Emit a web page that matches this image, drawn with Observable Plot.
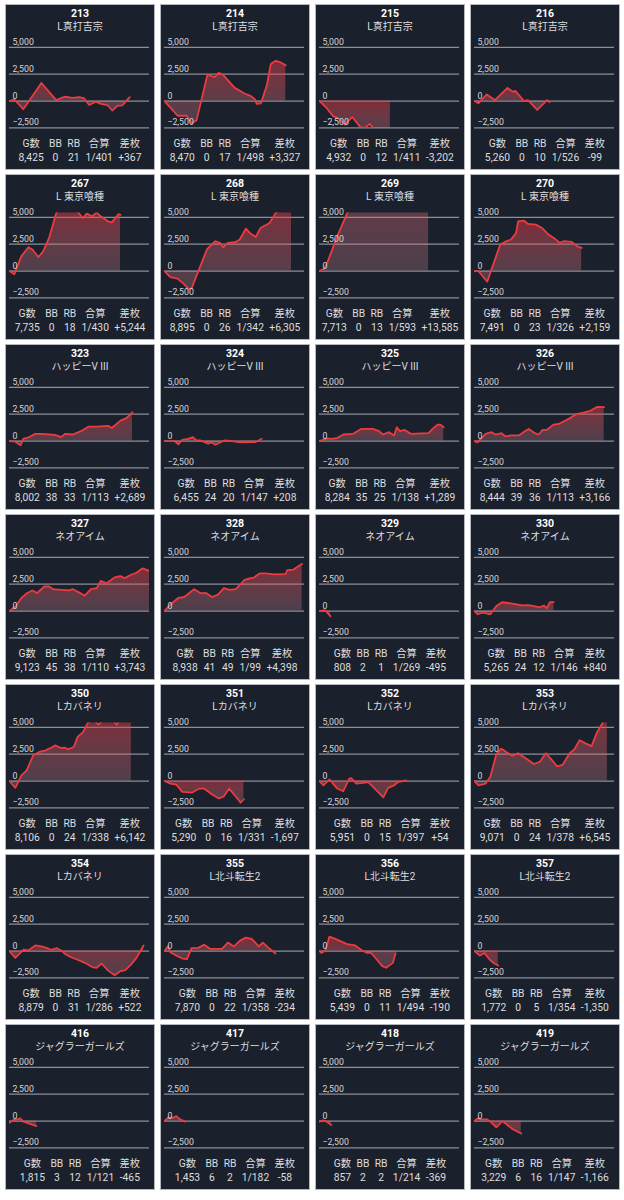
<!DOCTYPE html>
<html><head><meta charset="utf-8">
<script src="https://cdn.jsdelivr.net/npm/d3@7"></script>
<script src="https://cdn.jsdelivr.net/npm/@observablehq/plot@0.6"></script>
<style>
body{margin:0;background:#ffffff;font-family:Roboto,"Noto Sans CJK JP",sans-serif;}
#wrap{position:relative;width:624px;height:1200px;}
.panel{position:absolute;width:150px;height:166px;box-sizing:border-box;border:1px solid #b4b7be;background:#1b202d;color:#e4e4e4;overflow:hidden;}
.no{position:absolute;top:1px;left:0;right:0;text-align:center;font-weight:bold;font-size:10.5px;line-height:16px;color:#ffffff;}
.nm{position:absolute;top:14px;left:0;right:0;text-align:center;font-size:10px;line-height:16px;color:#dedede;}
.chart{position:absolute;top:29px;left:-1px;}
.stwrap{position:absolute;top:132px;left:0;right:0;}
table.st{margin:0 auto;border-collapse:collapse;font-size:10.3px;color:#dedede;}
table.st td{text-align:center;padding:0 2.7px;line-height:14px;height:14px;white-space:nowrap;}
</style></head>
<body><div id="wrap"></div>
<script>
// ---- data ----
const units = ["213","214","215","216","267","268","269","270","323","324","325","326","327","328","329","330","350","351","352","353","354","355","356","357","416","417","418","419"];
const names = ["L真打吉宗","L真打吉宗","L真打吉宗","L真打吉宗","L 東京喰種","L 東京喰種","L 東京喰種","L 東京喰種","ハッピーV III","ハッピーV III","ハッピーV III","ハッピーV III","ネオアイム","ネオアイム","ネオアイム","ネオアイム","Lカバネリ","Lカバネリ","Lカバネリ","Lカバネリ","Lカバネリ","L北斗転生2","L北斗転生2","L北斗転生2","ジャグラーガールズ","ジャグラーガールズ","ジャグラーガールズ","ジャグラーガールズ"];
const games = [8425,8470,4932,5260,7735,8895,7713,7491,8002,6455,8284,8444,9123,8938,808,5265,8106,5290,5951,9071,8879,7870,5439,1772,1815,1453,857,3229];
const bbCounts = [0,0,0,0,0,0,0,0,38,24,35,39,45,41,2,24,0,0,0,0,0,0,0,0,3,6,2,6];
const rbCounts = [21,17,12,10,18,26,13,23,33,20,25,36,38,49,1,12,24,16,15,24,31,22,11,5,12,2,2,16];
const combined = ["1/401","1/498","1/411","1/526","1/430","1/342","1/593","1/326","1/113","1/147","1/138","1/113","1/110","1/99","1/269","1/146","1/338","1/331","1/397","1/378","1/286","1/358","1/494","1/354","1/121","1/182","1/214","1/147"];
const diffs = [367,3327,-3202,-99,5244,6305,13585,2159,2689,208,1289,3166,3743,4398,-495,840,6142,-1697,54,6545,522,-234,-190,-1350,-465,-58,-369,-1166];
const headers = ["G数","BB","RB","合算","差枚"];
const yTicks = [-2500, 0, 2500, 5000];
const yDomain = [-2560, 5400];
const tDomain = [0, 100]; // time of business day, %

// series: [time % of day, coin difference]
const s213 = [[0,0],[3.5,150],[9.9,-760],[22.8,1680],[33.4,90],[39.3,400],[45.2,300],[49.9,370],[53.4,240],[56.9,-370],[61.6,-60],[65.2,-270],[69.9,-370],[73.4,-880],[76.9,-460],[80.5,-400],[85.9,367]];
const s214 = [[0,0],[9.4,-1370],[15.8,-1370],[19.3,-2040],[22.9,-1800],[30.7,2470],[35.8,2230],[38.7,2620],[41.7,2470],[50,1250],[57.1,700],[61.8,460],[64.6,150],[65.8,-270],[68.9,-210],[73.1,1460],[75.9,3450],[79.5,3750],[83,3600],[86.6,3327]];
const s215 = [[0,0],[5.2,-670],[9.9,-1430],[13.4,-1590],[18.1,-2200],[23.3,-1490],[29.4,-2450],[32.7,-2480],[35.8,-2130],[38.4,-2500],[41.6,-2800],[50.6,-3202]];
const s216 = [[0,0],[2.8,-210],[8.7,610],[14.6,90],[23.6,1220],[27.6,850],[29.2,950],[35.4,0],[38.2,90],[44.8,-820],[51.9,90],[53.5,-99]];
const s267 = [[0,0],[3.4,-310],[8.5,1390],[13.6,2220],[16.4,2010],[20.7,1300],[24.1,1850],[28.3,3090],[33.4,5400],[36.8,5900],[43.9,6000],[48.2,5600],[52.4,4940],[55.2,5350],[58.9,5100],[62.3,5450],[65.2,5100],[70.3,4640],[73.1,4540],[77.9,5300],[79.3,5244]];
const s268 = [[0,0],[4.2,-560],[9.3,-710],[14.2,-1240],[17,-1640],[19.3,-1640],[30.3,2010],[36.3,2780],[39.7,2630],[41.9,2220],[45.3,2630],[50.4,2690],[53.8,2940],[58.1,3960],[60.9,3550],[65.2,3180],[68.6,4020],[75.1,4480],[79.3,5400],[85,5900],[90.7,6305]];
const s269 = [[0,0],[3.4,220],[5.1,620],[12.7,3240],[19.8,5400],[30,7500],[50,10000],[77.9,13585]];
const s270 = [[0,0],[2.8,0],[5.7,-460],[9.1,-990],[18.4,2470],[22.7,2780],[26.1,2940],[29.7,3550],[31.2,4640],[35.4,4700],[38.2,4390],[43.9,4330],[48.2,4020],[52.4,3460],[56.7,3090],[61,2630],[63.7,2780],[69.4,2720],[73.1,2320],[76.5,2159]];
const s323 = [[0,0],[4.2,-60],[7.9,-400],[9.9,210],[14.2,370],[18.4,670],[22.7,670],[32.6,580],[36.8,370],[39.7,670],[45.3,610],[51,920],[56.7,1350],[62.3,1350],[70.8,1410],[73.1,1220],[79.3,1900],[83.6,2140],[87.8,2689]];
const s324 = [[0,0],[7.1,0],[9.9,-310],[12.7,120],[17,210],[20.4,370],[22.7,60],[25.5,60],[28.3,-90],[31.2,-240],[33.4,-120],[36.3,-340],[40.4,-90],[43.3,60],[48.2,0],[53.8,-120],[65.2,-90],[66.6,0],[69.4,208]];
const s325 = [[0,0],[5.7,240],[8.5,210],[12.7,280],[17,610],[24.1,670],[29.7,1130],[38.2,1130],[42.5,920],[45.3,610],[49.6,830],[53.3,520],[55.2,1290],[57.5,920],[60.9,1040],[65.2,670],[77.9,730],[80.7,1130],[84.4,1530],[86.4,1530],[88.7,1289]];
const s326 = [[0,0],[2.3,-120],[8,670],[12.2,830],[15,610],[19.3,730],[22.1,430],[26.1,520],[31.7,520],[36,920],[38.8,1130],[43.1,730],[45.9,610],[48.7,1040],[51.6,1040],[56.4,1530],[60.1,1590],[67.1,2050],[72.8,2510],[77.9,2660],[82.7,2820],[87.5,3180],[92.6,3166]];
const s327 = [[0,0],[4.2,400],[8.5,1220],[12.7,1680],[16.4,1920],[19.8,1680],[24.9,2290],[28.3,2290],[31.2,2040],[36.8,1980],[42.5,1920],[45.3,2040],[49.6,1740],[53.8,1430],[58.1,2040],[62.3,2140],[65.2,2810],[69.4,2590],[75.1,3140],[79.3,3260],[82.2,3050],[86.4,3360],[90.7,3570],[94.9,3970],[100,3743]];
const s328 = [[0,0],[4.2,610],[9.9,1220],[14.2,1310],[21.2,2040],[25.5,1680],[29.7,1680],[34,1310],[38.2,1530],[42.5,2140],[46.7,1980],[51,2040],[57.2,2900],[60.9,3050],[63.7,3110],[68,3510],[72.2,3510],[77.9,3420],[86.4,3450],[87.8,3810],[92.1,3870],[98.3,4398]];
const s329 = [[0,0],[2.8,60],[4.2,60],[7.9,-495]];
const s330 = [[0,0],[2.3,-300],[5.7,-150],[8.5,-210],[11.3,-300],[15.6,460],[19.8,820],[26.9,700],[34,520],[38.2,550],[42.5,460],[46.7,340],[49.6,520],[51.6,240],[53.8,820],[56.7,840]];
const s350 = [[0,0],[4.2,-640],[8.5,520],[12.2,980],[17,2410],[21.2,2710],[25.5,2840],[29.7,3110],[32.6,3320],[36.8,3080],[39.7,3110],[42,2960],[45.9,3170],[48.7,4120],[52.4,4540],[56.1,5450],[60,5700],[63.7,5250],[67,5700],[74,5700],[76.5,5250],[79,5700],[87,6142]];
const s351 = [[0,0],[4.2,-240],[8.5,-340],[12.7,-1010],[19.8,-1070],[24.9,-700],[28.3,-700],[34,-1250],[38.8,-1620],[42.2,-1460],[46.2,-700],[51,-1460],[54.4,-2010],[56.7,-1697]];
const s352 = [[0,0],[2.8,-400],[7.1,150],[12.7,-700],[17,-950],[21.2,210],[22.7,270],[26.3,-240],[31.2,-180],[34.8,-90],[40.5,-850],[45.6,-1530],[49,-640],[53.3,-400],[56.1,-90],[61.8,54]];
const s353 = [[0,0],[2.8,-400],[7.9,-240],[11.3,370],[15.6,2500],[19.3,3020],[22.7,2710],[26.9,2350],[31.2,2590],[36.8,2100],[42.5,1590],[46.7,1800],[51,2590],[55.2,1980],[58.9,1370],[62.9,1500],[68,2590],[71.4,2960],[75.1,3810],[79.3,3510],[83.6,3260],[87.3,4480],[91.2,5340],[94.9,6545]];
const s354 = [[0,0],[4.2,-640],[9.9,120],[13.6,60],[18.4,520],[22.7,430],[26.9,270],[29.7,120],[34,270],[36.8,60],[39.7,-270],[43.9,-580],[48.2,-790],[53.8,-1100],[59,-1490],[62.3,-1560],[65.7,-1160],[70.3,-1800],[75.1,-2260],[79.3,-1860],[82.7,-1770],[86.4,-1310],[90.7,-640],[95.8,522]];
const s355 = [[0,0],[2.3,430],[4.2,-120],[8.5,-430],[12.7,-700],[16.1,-760],[19.3,270],[24.1,300],[28.3,580],[32.6,210],[41.1,210],[45.3,790],[49.6,430],[53.8,950],[58.1,1250],[62.3,1130],[67.4,430],[70.3,790],[75.1,210],[79.3,-234]];
const s356 = [[0,0],[1.4,-180],[4.2,30],[7.1,1340],[11.3,1130],[15.6,880],[19.8,640],[25.5,520],[29.7,120],[34,-180],[36.8,-180],[40.9,-790],[44.8,-1400],[47.6,-1560],[52.4,-1100],[54.4,-190]];
const s357 = [[0,0],[3.7,-430],[7.1,-180],[10.8,-790],[14.2,-1160],[17,-1350]];
const s416 = [[0,-150],[2.8,90],[5.7,150],[7.9,240],[9.9,-60],[13.6,-210],[19.3,-465]];
const s417 = [[0,0],[2.8,340],[6.2,300],[8.5,460],[10.8,180],[14.7,-58]];
const s418 = [[0,-60],[2.3,60],[4.2,0],[6.2,-150],[8.5,-369]];
const s419 = [[0,0],[2.3,240],[5.1,150],[9.1,150],[11.9,-120],[15.6,-580],[19.8,-30],[22.7,-270],[26.9,-730],[33.4,-1166]];
const seriesList = [s213,s214,s215,s216,s267,s268,s269,s270,s323,s324,s325,s326,s327,s328,s329,s330,s350,s351,s352,s353,s354,s355,s356,s357,s416,s417,s418,s419];

// ---- render ----
const fmtN = d3.format(",");
const fmtDiff = d => (d > 0 ? "+" : d < 0 ? "-" : "") + fmtN(Math.abs(d));
const wrap = document.getElementById("wrap");

units.forEach((u, i) => {
  const col = i % 4, row = Math.floor(i / 4);
  const panel = document.createElement("div");
  panel.className = "panel";
  panel.style.left = (5 + col * 155) + "px";
  panel.style.top = (4 + row * 170) + "px";
  wrap.appendChild(panel);

  const no = document.createElement("div"); no.className = "no"; no.textContent = u; panel.appendChild(no);
  const nm = document.createElement("div"); nm.className = "nm"; nm.textContent = names[i]; panel.appendChild(nm);

  const data = seriesList[i].map(([t, v]) => ({t, v}));
  const gid = "grad" + u;
  const svg = Plot.plot({
    width: 150, height: 100,
    marginLeft: 4, marginRight: 5, marginTop: 8.68, marginBottom: 5.35,
    x: {domain: tDomain, axis: null},
    y: {domain: yDomain, axis: null},
    style: {background: "transparent", overflow: "visible", fontFamily: "Roboto, 'Noto Sans CJK JP', sans-serif"},
    marks: [
      Plot.ruleY(yTicks, {stroke: "#8a8e97", strokeWidth: 1.3}),
      Plot.areaY(data, {x: "t", y1: 0, y2: "v", fill: `url(#${gid})`, clip: true}),
      Plot.lineY(data, {x: "t", y: "v", stroke: "#ec3a3f", strokeWidth: 1.8, clip: true}),
      Plot.text(yTicks, {y: d => d, frameAnchor: "left", text: d => fmtN(d), textAnchor: "start", lineAnchor: "bottom", dx: 3, dy: -2.5, fill: "#d4d6da", fontSize: 8.8})
    ]
  });
  const defs = d3.select(svg).insert("defs", ":first-child");
  const lg = defs.append("linearGradient").attr("id", gid).attr("x1", 0).attr("y1", 0).attr("x2", 0).attr("y2", 1);
  lg.append("stop").attr("offset", "0%").attr("stop-color", "rgb(232,56,66)").attr("stop-opacity", 0.5);
  lg.append("stop").attr("offset", "100%").attr("stop-color", "rgb(205,140,150)").attr("stop-opacity", 0.28);
  const holder = document.createElement("div"); holder.className = "chart"; holder.appendChild(svg); panel.appendChild(holder);

  const sw = document.createElement("div"); sw.className = "stwrap";
  const tbl = document.createElement("table"); tbl.className = "st";
  const r1 = tbl.insertRow(), r2 = tbl.insertRow();
  headers.forEach(h => { r1.insertCell().textContent = h; });
  [fmtN(games[i]), bbCounts[i], rbCounts[i], combined[i], fmtDiff(diffs[i])].forEach(v => { r2.insertCell().textContent = v; });
  sw.appendChild(tbl);
  panel.appendChild(sw);
});
</script>
</body></html>
